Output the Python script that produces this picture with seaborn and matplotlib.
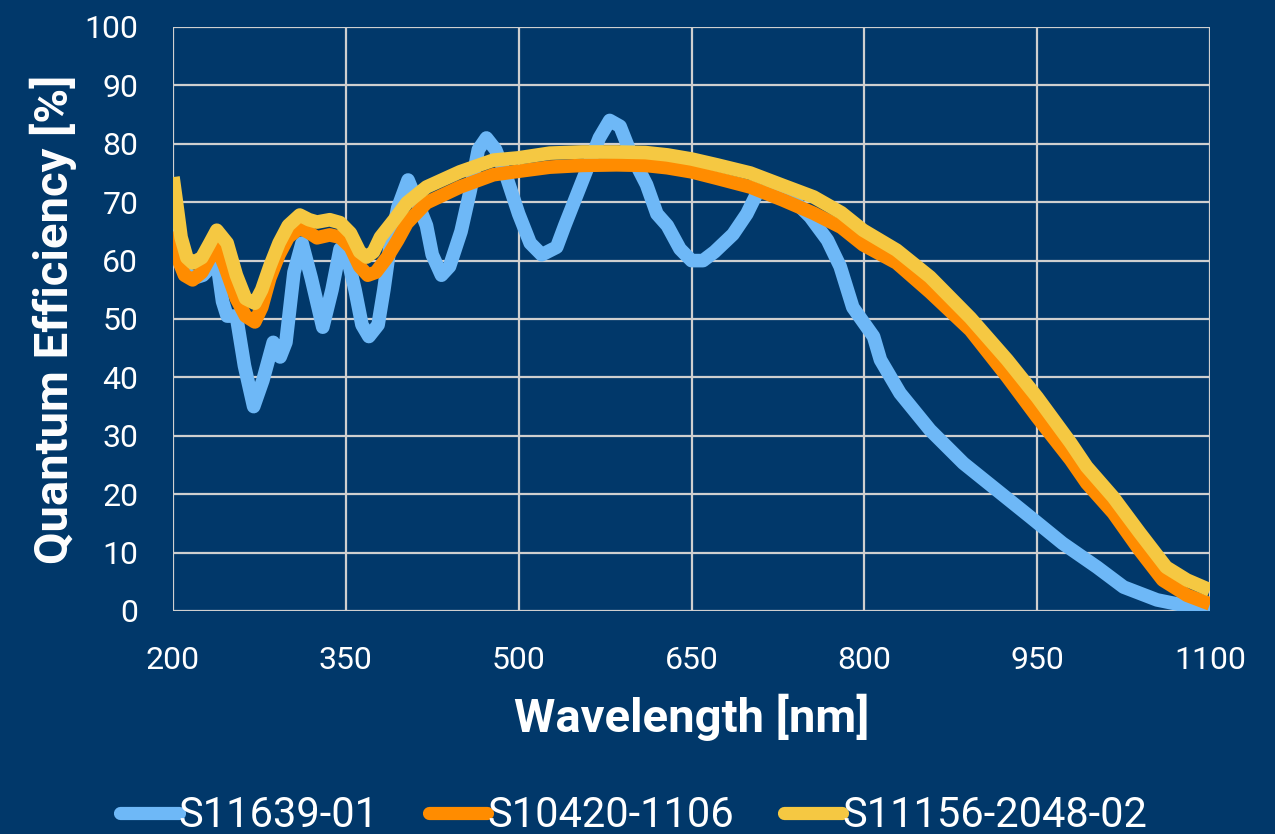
import matplotlib
matplotlib.use("Agg")
import matplotlib.pyplot as plt
import seaborn as sns
import pandas as pd
from matplotlib.lines import Line2D

# ---- data ----
blue_wl = [200, 210, 218, 226, 238, 243, 247, 255, 262, 270, 278, 287, 293, 298, 305, 312, 320, 330,
           338, 345, 352, 358, 364, 370, 378, 383, 388, 395, 404, 412, 420, 425, 433, 440, 450, 458,
           465, 472, 480, 490, 500, 510, 520, 533, 540, 550, 560, 570, 579, 588, 598, 611, 620, 629,
           640, 650, 660, 670, 686, 698, 707, 730, 753, 768, 779, 790, 808, 814, 831, 857, 886, 915,
           944, 972, 1002, 1025, 1054, 1089, 1100]
blue_qe = [62, 58, 57, 57.5, 60, 53, 50.5, 50.5, 42, 35, 39.5, 46, 43.5, 46, 58, 63, 57, 48.6,
           55, 62, 60, 55, 49, 47, 49, 55, 62, 69, 73.8, 70, 66, 61, 57.5, 59, 65, 72,
           79, 81, 79, 74, 68, 63, 61, 62.3, 66, 71, 76, 81, 84, 83, 78, 73, 68, 66,
           62, 60, 60, 61.5, 64.5, 68, 71.6, 72, 67.5, 63.5, 59, 52, 47, 43, 37.3, 31, 25.3, 20.7,
           16.1, 11.6, 7.5, 4.1, 1.9, 0.5, 0.3]

orange_wl = [200, 205, 210, 217, 225, 232, 238, 245, 255, 263, 271, 277, 284, 292, 300, 310, 318, 325,
             336, 345, 354, 362, 369, 376, 386, 395, 403, 420, 449, 478, 500, 527, 555, 585, 610, 629,
             650, 672, 701, 729, 756, 780, 799, 828, 857, 892, 924, 950, 979, 993, 1016, 1039, 1059,
             1080, 1100]
orange_qe = [65, 60, 57.5, 56.7, 58, 60.5, 62.3, 59, 53.5, 50.5, 49.5, 52, 57, 61, 64, 65.6, 64.8, 63.9,
             64.4, 64, 62.3, 59, 57.5, 58, 60.6, 63.5, 66.4, 69.9, 72.6, 74.7, 75.3, 76, 76.3, 76.4, 76.3, 75.9,
             75.2, 74.1, 72.6, 70.4, 68.1, 65.7, 62.7, 59.6, 54.6, 48.1, 40.1, 33.2, 25.9, 21.9, 16.8, 10.4, 5.3,
             2.7, 1.2]

yellow_wl = [200, 203, 207, 212, 217, 225, 232, 238, 247, 255, 263, 271, 277, 284, 292, 300, 310, 318,
             325, 336, 345, 354, 362, 368, 374, 380, 392, 403, 420, 449, 478, 500, 527, 555, 585, 610,
             629, 650, 672, 701, 729, 756, 780, 799, 828, 857, 892, 924, 950, 979, 993, 1016, 1039,
             1062, 1080, 1100]
yellow_qe = [74.3, 70, 64, 60.5, 59.6, 60.5, 63, 65.2, 63, 57.5, 53.5, 52.7, 55, 59, 63, 66, 67.8, 67,
             66.6, 67, 66.5, 64.7, 61.5, 60.6, 61.5, 64, 67, 69.9, 72.6, 75.2, 77.2, 77.6, 78.4, 78.6, 78.6, 78.5,
             78.1, 77.4, 76.4, 75, 72.9, 70.9, 68.2, 65.2, 61.8, 57.2, 50.2, 43, 36.6, 28.8, 24.7, 19.5, 13.4,
             7.5, 5.3, 3.6]

series_names = ["S11639-01", "S10420-1106", "S11156-2048-02"]
series_colors = ["#6EB8F7", "#FF8C00", "#F5C842"]
x_ticks = [200, 350, 500, 650, 800, 950, 1100]
y_ticks = list(range(0, 101, 10))

BG = "#01386A"
GRID = "#CFCFCF"

df = pd.concat([
    pd.DataFrame({"wl": blue_wl, "qe": blue_qe, "series": series_names[0]}),
    pd.DataFrame({"wl": orange_wl, "qe": orange_qe, "series": series_names[1]}),
    pd.DataFrame({"wl": yellow_wl, "qe": yellow_qe, "series": series_names[2]}),
], ignore_index=True)

sns.set_theme(style="whitegrid")
plt.rcParams["font.family"] = ["Roboto", "DejaVu Sans"]

fig = plt.figure(figsize=(12.75, 8.34), dpi=100, facecolor=BG)
ax = fig.add_axes([173 / 1275, 1 - 611 / 834, (1210 - 173) / 1275, (611 - 27) / 834])
ax.set_facecolor(BG)

sns.lineplot(data=df, x="wl", y="qe", hue="series", hue_order=series_names,
             palette=series_colors, linewidth=9.8, ax=ax, legend=False, sort=False,
             estimator=None)
for ln in ax.get_lines():
    ln.set_solid_joinstyle("round")
    ln.set_solid_capstyle("butt")

ax.set_xlim(200, 1100)
ax.set_ylim(0, 100)
ax.set_xticks(x_ticks)
ax.set_yticks(y_ticks)
ax.grid(True, color=GRID, linewidth=1.6)
ax.set_axisbelow(True)
for s in ax.spines.values():
    s.set_visible(False)
ax.tick_params(axis="both", colors="white", labelsize=23, length=0)
ax.tick_params(axis="x", pad=25)
ax.tick_params(axis="y", pad=25)
for lab in ax.get_xticklabels() + ax.get_yticklabels():
    lab.set_color("white")

ax.set_xlabel("Wavelength [nm]", color="white", fontsize=34, fontweight="bold", labelpad=14)
ax.set_ylabel("Quantum Efficiency [%]", color="white", fontsize=34, fontweight="bold", labelpad=5)

handles = [Line2D([0], [0], color=c, linewidth=9.5, solid_capstyle="round") for c in series_colors]
leg = fig.legend(handles, series_names, loc="center", bbox_to_anchor=(0.497, 0.022),
                 ncol=3, frameon=False, fontsize=30, handlelength=1.4, handletextpad=0.0,
                 columnspacing=1.2)
for t in leg.get_texts():
    t.set_color("white")

fig.savefig("out.png", dpi=100, facecolor=BG)
